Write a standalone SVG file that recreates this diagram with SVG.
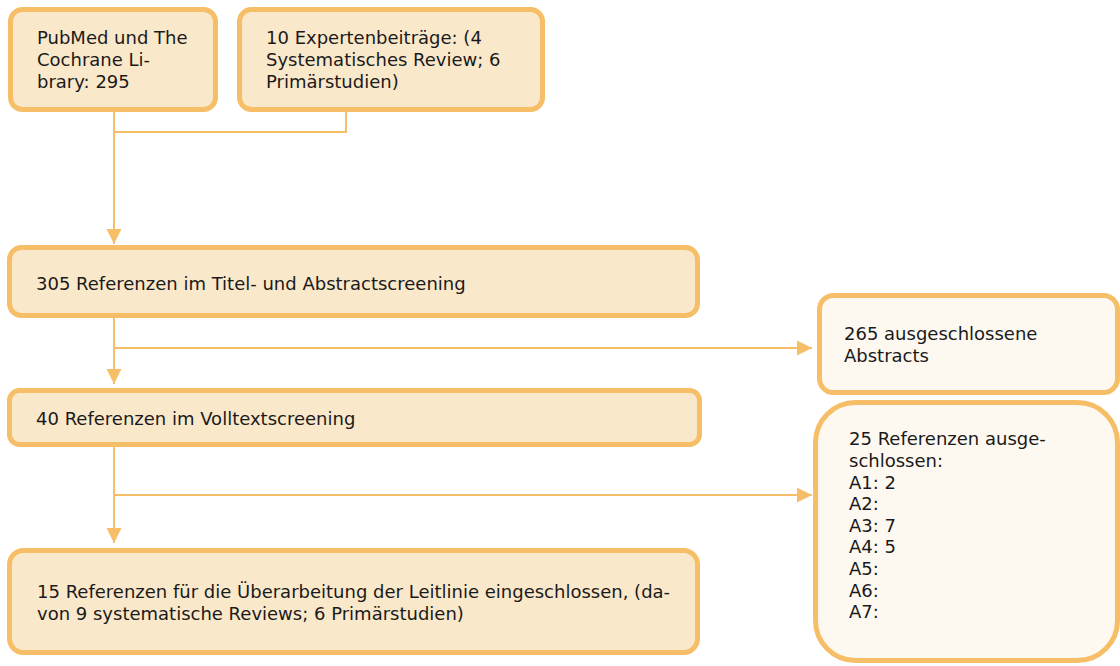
<svg xmlns="http://www.w3.org/2000/svg" width="1120" height="666" viewBox="0 0 1120 666">
<defs>
<style>
.box{fill:#FAE8CA;stroke:#F6BE67;stroke-width:5}
.ex{fill:#FDF9F1;stroke:#F6BE67;stroke-width:5}
.con{fill:none;stroke:#F6BE67;stroke-width:2}
text{font-family:"DejaVu Sans","Verdana",sans-serif;font-size:18px;fill:#1a1a1a}
</style>
<marker id="ah" markerUnits="userSpaceOnUse" markerWidth="16" markerHeight="16" viewBox="0 0 16 16" refX="15" refY="8" orient="auto">
<path d="M0,0.5 L15,8 L0,15.5 z" fill="#F6BE67"/>
</marker>
</defs>
<rect width="1120" height="666" fill="#ffffff"/>
<g id="connectors">
<path class="con" d="M114 112 V244" marker-end="url(#ah)"/>
<path class="con" d="M346 112 V132 H114"/>
<path class="con" d="M114 318 V384" marker-end="url(#ah)"/>
<path class="con" d="M114 348 H812" marker-end="url(#ah)"/>
<path class="con" d="M114 447 V543" marker-end="url(#ah)"/>
<path class="con" d="M114 495 H812" marker-end="url(#ah)"/>
</g>
<g id="n1">
<rect class="box" x="10.5" y="9.5" width="205" height="100" rx="12"/>
<text x="37" y="44">PubMed und The</text>
<text x="37" y="66">Cochrane Li-</text>
<text x="37" y="88">brary: 295</text>
</g>
<g id="n2">
<rect class="box" x="239.5" y="9.5" width="303" height="100" rx="12"/>
<text x="266" y="44">10 Expertenbeiträge: (4</text>
<text x="266" y="66">Systematisches Review; 6</text>
<text x="266" y="88">Primärstudien)</text>
</g>
<g id="n3">
<rect class="box" x="9.5" y="247.5" width="688" height="68" rx="12"/>
<text x="36" y="290">305 Referenzen im Titel- und Abstractscreening</text>
</g>
<g id="n4">
<rect class="box" x="9.5" y="390.5" width="690" height="54" rx="10"/>
<text x="36" y="425">40 Referenzen im Volltextscreening</text>
</g>
<g id="n5">
<rect class="box" x="9.5" y="550.5" width="688" height="102" rx="14"/>
<text x="37" y="598">15 Referenzen für die Überarbeitung der Leitlinie eingeschlossen, (da-</text>
<text x="37" y="620">von 9 systematische Reviews; 6 Primärstudien)</text>
</g>
<g id="nA">
<rect class="ex" x="819.5" y="295.5" width="298" height="97" rx="14"/>
<text x="844" y="340">265 ausgeschlossene</text>
<text x="844" y="362">Abstracts</text>
</g>
<g id="nB">
<rect class="ex" x="815.5" y="402.5" width="302" height="258" rx="40"/>
<text x="849" y="445">25 Referenzen ausge-</text>
<text x="849" y="467">schlossen:</text>
<text x="849" y="489">A1: 2</text>
<text x="849" y="510">A2:</text>
<text x="849" y="532">A3: 7</text>
<text x="849" y="553">A4: 5</text>
<text x="849" y="575">A5:</text>
<text x="849" y="597">A6:</text>
<text x="849" y="618">A7:</text>
</g>
</svg>
